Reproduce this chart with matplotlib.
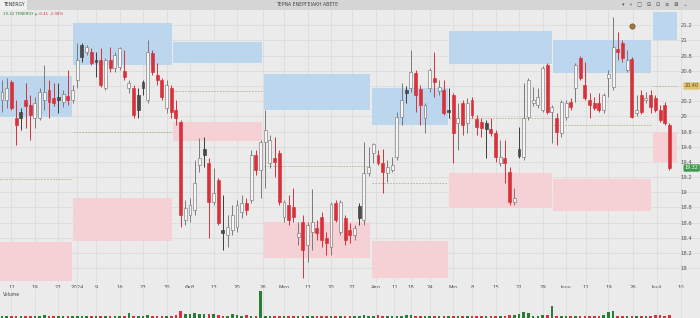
import matplotlib
matplotlib.use("Agg")
import matplotlib.pyplot as plt
from matplotlib.patches import Rectangle
from matplotlib.transforms import blended_transform_factory
import numpy as np

# daily candles, Dec 2023 -> Jul 2024 (one entry per trading session)
opens = [
    20.21, 20.21, 20.45, 19.98, 19.98, 20.21, 20.15, 19.98, 19.98, 20.21,
    20.35, 20.24, 20.21, 20.19, 20.27, 20.21, 20.48, 20.78, 20.85, 20.85,
    20.71, 20.74, 20.37, 20.74, 20.64, 20.65, 20.60, 20.37, 20.37, 20.08,
    20.37, 20.21, 20.83, 20.54, 20.48, 20.11, 20.37, 20.08, 19.92, 18.64,
    18.70, 18.77, 19.36, 19.49, 19.39, 18.87, 19.16, 18.50, 18.44, 18.50,
    18.54, 18.74, 18.86, 18.90, 19.49, 19.29, 19.66, 19.39, 19.45, 19.52,
    18.67, 18.83, 18.81, 18.41, 18.61, 18.31, 18.48, 18.53, 18.67, 18.40,
    18.28, 18.86, 18.48, 18.66, 18.50, 18.44, 18.66, 18.64, 19.25, 19.52,
    19.49, 19.39, 19.25, 19.29, 19.46, 19.99, 20.31, 20.37, 20.57, 20.36,
    19.98, 20.37, 20.50, 20.33, 20.35, 20.06, 20.28, 19.91, 20.17, 19.91,
    20.21, 19.96, 19.92, 19.83, 19.83, 19.78, 19.39, 19.45, 19.27, 18.87,
    19.48, 19.46, 19.99, 20.17, 20.15, 20.08, 20.67, 20.06, 19.98, 19.78,
    19.99, 20.19, 20.37, 20.77, 20.41, 20.21, 20.17, 20.17, 20.08, 20.50,
    20.39, 20.89, 20.96, 20.61, 20.75, 20.04, 20.28, 20.21, 20.28, 20.24,
    20.08, 20.15, 19.89,
]
highs = [
    20.48, 20.50, 20.48, 20.21, 20.11, 20.44, 20.28, 20.25, 20.37, 20.67,
    20.48, 20.44, 20.44, 20.35, 20.61, 20.41, 20.96, 20.96, 20.94, 20.90,
    20.85, 20.90, 20.77, 20.91, 20.85, 20.91, 20.87, 20.48, 20.41, 20.37,
    20.48, 21.00, 20.87, 20.70, 20.50, 20.48, 20.41, 20.21, 19.95, 18.90,
    18.92, 19.42, 19.71, 19.73, 19.45, 19.32, 19.19, 18.96, 18.70, 18.83,
    18.90, 18.96, 18.92, 19.56, 19.56, 19.69, 20.08, 19.75, 19.73, 19.56,
    18.90, 18.96, 19.06, 18.61, 18.70, 18.61, 19.04, 18.64, 18.74, 18.48,
    18.87, 18.90, 18.90, 18.70, 18.60, 18.57, 18.86, 19.66, 19.60, 19.65,
    19.56, 19.57, 19.42, 19.46, 20.06, 20.44, 20.40, 20.87, 20.61, 20.41,
    20.17, 20.64, 20.85, 20.48, 20.48, 20.37, 20.31, 20.17, 20.21, 20.24,
    20.25, 20.02, 19.98, 19.95, 19.98, 19.82, 19.69, 19.69, 19.33, 19.06,
    19.86, 20.44, 20.50, 20.39, 20.37, 20.66, 20.70, 20.15, 20.04, 20.21,
    20.21, 20.24, 20.70, 20.79, 20.71, 20.31, 20.25, 20.31, 20.31, 20.61,
    21.31, 21.11, 21.00, 20.87, 20.78, 20.28, 20.35, 20.32, 20.35, 20.28,
    20.15, 20.19, 19.91,
]
lows = [
    20.06, 20.11, 20.08, 19.62, 19.82, 19.85, 19.69, 19.85, 19.95, 20.08,
    19.98, 20.14, 20.04, 20.12, 20.15, 20.17, 20.37, 20.71, 20.81, 20.67,
    20.52, 20.39, 20.35, 20.58, 20.58, 20.61, 20.48, 20.31, 19.98, 19.98,
    20.28, 20.17, 20.54, 20.41, 20.21, 20.04, 19.98, 19.89, 18.54, 18.57,
    18.61, 18.70, 19.27, 19.33, 18.40, 18.83, 18.57, 18.24, 18.28, 18.44,
    18.48, 18.66, 18.70, 18.86, 19.23, 18.92, 19.06, 19.32, 19.20, 18.83,
    18.61, 18.57, 18.61, 18.31, 17.87, 18.08, 18.24, 18.37, 18.28, 18.17,
    18.17, 18.61, 18.44, 18.31, 18.33, 18.37, 18.57, 18.57, 19.21, 19.39,
    19.36, 18.99, 19.14, 19.27, 19.42, 19.89, 20.17, 20.32, 20.06, 19.89,
    19.78, 20.32, 20.25, 20.28, 20.02, 19.98, 19.39, 19.56, 19.75, 19.78,
    19.98, 19.75, 19.73, 19.45, 19.74, 19.40, 19.35, 19.12, 18.83, 18.83,
    19.45, 19.42, 19.95, 20.14, 20.11, 20.06, 20.03, 19.65, 19.62, 19.73,
    19.95, 20.08, 20.19, 20.48, 20.21, 19.98, 20.08, 20.06, 20.04, 20.25,
    20.35, 20.74, 20.71, 20.58, 19.98, 20.00, 20.03, 20.17, 20.04, 20.06,
    19.92, 19.89, 19.30,
]
closes = [
    20.32, 20.37, 20.11, 19.89, 20.06, 20.14, 20.02, 20.17, 20.32, 20.32,
    20.19, 20.17, 20.25, 20.29, 20.21, 20.35, 20.74, 20.94, 20.91, 20.70,
    20.74, 20.41, 20.74, 20.64, 20.81, 20.90, 20.52, 20.44, 20.02, 20.28,
    20.45, 20.85, 20.58, 20.48, 20.25, 20.41, 20.06, 19.98, 18.70, 18.79,
    18.83, 19.12, 19.45, 19.57, 18.87, 18.99, 18.60, 18.46, 18.54, 18.70,
    18.83, 18.86, 18.77, 19.49, 19.29, 19.66, 19.82, 19.69, 19.40, 18.87,
    18.87, 18.64, 18.67, 18.46, 18.24, 18.57, 18.61, 18.46, 18.37, 18.33,
    18.85, 18.64, 18.87, 18.37, 18.44, 18.53, 18.82, 19.25, 19.33, 19.64,
    19.39, 19.27, 19.33, 19.36, 19.99, 20.21, 20.35, 20.58, 20.28, 20.15,
    20.15, 20.61, 20.45, 20.39, 20.04, 20.08, 19.78, 19.98, 19.89, 20.17,
    20.02, 19.86, 19.85, 19.91, 19.78, 19.46, 19.46, 19.39, 18.87, 18.92,
    19.57, 19.98, 20.48, 20.21, 20.25, 20.64, 20.06, 20.12, 19.79, 20.19,
    20.17, 20.12, 20.67, 20.50, 20.24, 20.15, 20.11, 20.08, 20.28, 20.56,
    20.91, 20.85, 20.77, 20.74, 19.99, 20.08, 20.06, 20.24, 20.12, 20.08,
    19.95, 19.91, 19.32,
]
# w = hollow (up), r = red (down), k = dark filled
candle_kind = ("wwrrkrrwwwrrkwrw" "wkwrkrwrwwrwrkkwrrrwrr" "rwwwwkrwrkwwwwrwrw"
               "wwrrwrrwrwwrrrwrwrrwkww" "wrrwwwwkwrrwwrwr" "krwrwrrrkrrwrrwkwwwwwr"
               "wrwwrwrrrrrwwwrrwrwrwrrrrr")
volumes = [
    50, 40, 55, 45, 60, 50, 45, 40, 55, 75, 50, 45, 40, 55, 50, 45,
    60, 50, 45, 55, 50, 60, 45, 50, 40, 55, 50, 125, 60, 55, 50, 70, 60, 55, 50, 45, 60, 70,
    175, 90, 100, 110, 100, 95, 100, 90, 80, 60, 55, 100, 70, 60, 75, 60, 50,
    650,
    60, 50, 45, 40, 55, 50, 45, 50, 60, 55, 45, 40, 50, 45, 40, 55, 45, 50, 40, 45, 50, 75, 60, 55,
    75, 55, 50, 45, 60, 55, 70, 75, 55, 50, 45, 60, 50, 45, 55, 50, 60, 55, 50, 45,
    50, 55, 45, 60, 50, 55, 45, 60, 70, 75, 100, 150, 125, 60, 55, 70, 80,
    300,
    60, 55, 50, 45, 50, 45, 40, 50, 45, 50, 75, 150, 175, 55, 50, 45, 60, 55, 50, 60, 55, 65, 70, 60, 75,
]

date_tick_pos = [2, 7, 12, 16, 20, 25, 30, 35, 40, 45, 50, 55.5, 60, 65, 70, 74.5,
                 79.5, 83.5, 87, 91, 96, 100, 105, 110, 115, 120, 124.3, 129, 134.3,
                 139.4, 144.5]
date_tick_labels = ["12", "19", "27", "2024", "9", "16", "23", "30", "Φεβ", "13", "20",
                    "26", "Μαρ", "13", "20", "27", "Απρ", "11", "18", "24", "Μαι", "8",
                    "15", "22", "29", "Ιουν", "12", "19", "26", "Ιουλ", "10"]
price_ticks = [18.0, 18.2, 18.4, 18.6, 18.8, 19.0, 19.2, 19.4, 19.6, 19.8, 20.0,
               20.2, 20.4, 20.6, 20.8, 21.0, 21.2]

# monthly zones: session span, upper (blue) band, lower (pink) band, mid level
zone_start = [-0.5, 15.1, 36.4, 55.7, 78.7, 95.1, 117.2, 138.5]
zone_end = [14.9, 36.2, 55.3, 78.3, 94.9, 117.0, 138.1, 143.6]
blue_top = [20.53, 21.23, 20.98, 20.56, 20.37, 21.13, 21.00, 21.37]
blue_bottom = [19.99, 20.67, 20.70, 20.08, 19.89, 20.69, 20.57, 21.00]
pink_top = [18.35, 18.92, 19.92, 18.61, 18.36, 19.25, 19.17, 19.79]
pink_bottom = [17.83, 18.36, 19.68, 18.14, 17.87, 18.79, 18.75, 19.40]
mid_level = [19.17, 19.79, 20.33, 19.35, 19.12, 19.98, 19.89, 20.40]

last_price = 19.32
event_session, event_price = 134, 21.19

W, H = 700, 318
BG = "#ebebeb"
GRID = "#d9d9d9"
RED = "#d7313b"
GREEN = "#2a7d35"
BLUE_ZONE = "#bcd6ee"
PINK_ZONE = "#f5d0d4"


def fy(px):
    """pixel row from the top -> figure fraction"""
    return 1 - px / H


fig = plt.figure(figsize=(W / 100, H / 100), dpi=100)
fig.patch.set_facecolor(BG)

ax = fig.add_axes([0, fy(283), 1, (283 - 10) / H])
ax.set_facecolor(BG)
for s in ax.spines.values():
    s.set_visible(False)
ax.set_xlim(-0.43, 148.5)
ax.set_ylim(17.806, 21.40)

for i in range(len(zone_start)):
    xs = [zone_start[i], zone_end[i]]
    ax.fill_between(xs, blue_bottom[i], blue_top[i], color=BLUE_ZONE, lw=0, zorder=1)
    ax.fill_between(xs, pink_bottom[i], pink_top[i], color=PINK_ZONE, lw=0, zorder=1)
ax.hlines(mid_level, zone_start, zone_end, colors="#b8b084", lw=0.6,
          linestyles=(0, (2, 1.5)), zorder=2)

x = np.arange(len(closes))
o = np.array(opens)
c = np.array(closes)
fills = {"w": "#f5f5f5", "r": RED, "k": "#4b4b4b"}
edges = {"w": "#7a7a7a", "r": RED, "k": "#3c3c3c"}
fill_cols = [fills[k] for k in candle_kind]
edge_cols = [edges[k] for k in candle_kind]
ax.vlines(x, lows, highs, colors=edge_cols, lw=0.7, zorder=3)
ax.bar(x, np.maximum(np.abs(c - o), 0.012), bottom=np.minimum(o, c), width=0.62,
       color=fill_cols, edgecolor=edge_cols, linewidth=0.45, zorder=4)

ax.scatter([event_session], [event_price], s=14, color="#a8763e", edgecolor="#6b4a2a",
           lw=0.5, zorder=5)

ax.set_xticks(date_tick_pos)
ax.set_xticklabels(date_tick_labels)
ax.set_yticks(price_ticks)
# the 20.4 level is covered by the highlighted mid-level tag
ax.set_yticklabels(["" if abs(t - mid_level[-1]) < 0.05 else f"{t:g}" for t in price_ticks])
ax.yaxis.tick_right()
ax.tick_params(axis="x", length=0, pad=1.5, labelsize=3.8, labelcolor="#555555")
ax.tick_params(axis="y", length=0, pad=-14, labelsize=3.8, labelcolor="#555555")
ax.grid(True, color=GRID, lw=0.5)
ax.set_axisbelow(True)

trans = blended_transform_factory(ax.transAxes, ax.transData)
ax.text(0.998, last_price, f"{last_price:.2f}", transform=trans, ha="right", va="center",
        fontsize=3.5, color="white", zorder=6,
        bbox=dict(boxstyle="round,pad=0.25", fc="#3f9a4e", ec="none"))
ax.text(0.998, mid_level[-1], f"{mid_level[-1]:.2f}", transform=trans, ha="right",
        va="center", fontsize=3.5, color="#5a4a20", zorder=6,
        bbox=dict(boxstyle="round,pad=0.25", fc="#e0c271", ec="none"))

# volume pane
axv = fig.add_axes([0, 0, 1, fy(288)])
axv.set_facecolor(BG)
for s in axv.spines.values():
    s.set_visible(False)
axv.set_xlim(-0.43, 148.5)
axv.set_ylim(0, 720)
vol_cols = [GREEN if ci >= oi else RED for oi, ci in zip(opens, closes)]
axv.bar(x, volumes, width=0.55, color=vol_cols, lw=0)
axv.set_xticks(date_tick_pos)
axv.set_yticks([])
axv.tick_params(axis="x", length=0, labelbottom=False)
axv.grid(True, axis="x", color=GRID, lw=0.5)
axv.set_axisbelow(True)
axv.text(0.004, 0.88, "Volume", transform=axv.transAxes, fontsize=3.3, color="#444444",
         va="top")

# window chrome
fig.add_artist(Rectangle((0, fy(10)), 1, 10 / H, transform=fig.transFigure,
                         color="#d5d5d5", lw=0))
fig.add_artist(Rectangle((0, fy(10)), 27 / W, 10 / H, transform=fig.transFigure,
                         color="#f0f0f0", lw=0))
fig.text(3 / W, fy(5), "TENERGY", fontsize=3.3, color="#333333", va="center")
fig.text(307 / W, fy(5), "ΤΕΡΝΑ ΕΝΕΡΓΕΙΑΚΗ ΑΒΕΤΕ", fontsize=3.3, color="#444444",
         ha="center", va="center")
fig.text(622 / W, fy(5), "▾   «   □   ⊟   ⊡   ≡   ⊠   ⌄", fontsize=3.6,
         color="#555555", va="center")
fig.text(3 / W, fy(14), "19.32 TENERGY μ", fontsize=2.8, color=GREEN, va="center")
fig.text(38 / W, fy(14), "-0.41 -2.08%", fontsize=2.8, color=RED, va="center")

fig.savefig("out.png", dpi=100, facecolor=BG)
